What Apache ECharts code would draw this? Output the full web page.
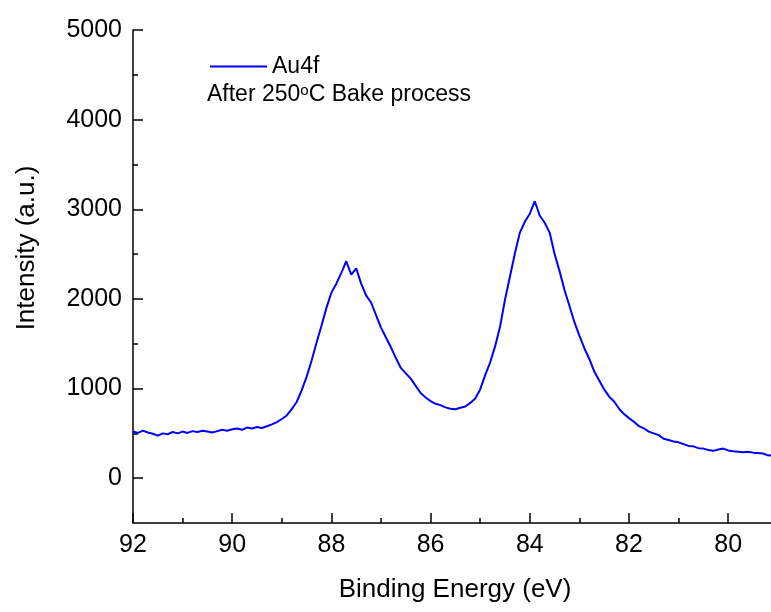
<!DOCTYPE html>
<html><head><meta charset="utf-8">
<script src="https://cdn.jsdelivr.net/npm/echarts@6/dist/echarts.min.js"></script>
<style>html,body{margin:0;padding:0;background:#fff}#c{width:771px;height:612px}</style>
</head><body><div id="c"></div>
<script>
const energy = [92.0,91.9,91.8,91.7,91.6,91.5,91.4,91.3,91.2,91.1,91.0,90.9,90.8,90.7,90.6,90.5,90.4,90.3,90.2,90.1,
90.0,89.9,89.8,89.7,89.6,89.5,89.4,89.3,89.2,89.1,89.0,88.9,88.8,88.7,88.6,88.5,88.4,88.3,88.2,88.1,
88.0,87.9,87.8,87.7,87.6,87.5,87.4,87.3,87.2,87.1,87.0,86.9,86.8,86.7,86.6,86.5,86.4,86.3,86.2,86.1,
86.0,85.9,85.8,85.7,85.6,85.5,85.4,85.3,85.2,85.1,85.0,84.9,84.8,84.7,84.6,84.5,84.4,84.3,84.2,84.1,
84.0,83.9,83.8,83.7,83.6,83.5,83.4,83.3,83.2,83.1,83.0,82.9,82.8,82.7,82.6,82.5,82.4,82.3,82.2,82.1,
82.0,81.9,81.8,81.7,81.6,81.5,81.4,81.3,81.2,81.1,81.0,80.9,80.8,80.7,80.6,80.5,80.4,80.3,80.2,80.1,
80.0,79.9,79.8,79.7,79.6,79.5,79.4,79.3,79.2,79.1];
const intensity = [520,505,530,510,495,475,500,490,515,500,520,505,525,515,530,520,510,525,540,530,
545,555,540,565,555,570,560,580,600,625,660,700,770,850,980,1130,1310,1510,1700,1900,
2070,2170,2290,2420,2270,2340,2170,2040,1960,1820,1680,1570,1460,1340,1230,1170,1110,1030,950,900,
860,830,815,790,775,770,785,800,840,890,990,1150,1290,1470,1690,1990,2250,2510,2740,2860,
2950,3090,2930,2850,2740,2500,2310,2100,1920,1740,1590,1450,1330,1190,1090,990,910,855,775,715,
670,630,580,555,520,500,480,440,425,410,400,380,360,355,335,330,315,305,320,330,
310,300,295,290,295,285,280,275,255,250];
const seriesName = 'Au4f';
const noteText = 'After 250{sup|o}C Bake process';
const yLabelValues = [0,1000,2000,3000,4000,5000];
const yMinorValues = [500,1500,2500,3500,4500];
const xTitle = 'Binding Energy (eV)';
const yTitle = 'Intensity (a.u.)';

const FONT = 'Liberation Sans, Arial, sans-serif';
const chart = echarts.init(document.getElementById('c'), null, {renderer:'canvas'});
const data = energy.map((e,i)=>[e, intensity[i]]);
chart.setOption({
  animation:false,
  backgroundColor:'#fff',
  grid:{left:133, top:30, width:694.4, height:493, containLabel:false, outerBoundsMode:'none'},
  legend:{
    left:205, top:50, itemWidth:57, itemHeight:2, icon:'rect', itemGap:8,
    textStyle:{fontFamily:FONT, fontSize:23, color:'#000'},
    data:[{name:seriesName}]
  },
  graphic:[{
    type:'text', left:207, top:83,
    style:{text:noteText, fontFamily:FONT, fontSize:23, fill:'#000',
      rich:{sup:{fontSize:15, verticalAlign:'top', lineHeight:12, padding:[0,0,14,0], fontFamily:FONT, fill:'#000'}}}
  },{
    type:'text', x:455, y:590,
    style:{text:xTitle, fontFamily:FONT, fontSize:26, fill:'#000', align:'center', verticalAlign:'middle'}
  },{
    type:'text', x:27, y:248, rotation:Math.PI/2,
    style:{text:yTitle, fontFamily:FONT, fontSize:26, fill:'#000', align:'center', verticalAlign:'middle'}
  }],
  xAxis:{
    type:'value', inverse:true, min:78, max:92, interval:2,
    axisLine:{show:true, onZero:false, lineStyle:{color:'#000', width:1.5}},
    axisTick:{show:true, inside:true, length:10, lineStyle:{color:'#000', width:1.5}},
    minorTick:{show:true, splitNumber:2, length:5, lineStyle:{color:'#000', width:1.5}},
    axisLabel:{fontFamily:FONT, fontSize:25, color:'#000', margin:10},
    splitLine:{show:false}, minorSplitLine:{show:false}
  },
  yAxis:[{
    type:'value', min:-500, max:5000, position:'left',
    axisLine:{show:true, onZero:false, lineStyle:{color:'#000', width:1.5}},
    axisTick:{show:true, inside:true, length:10, customValues:yLabelValues, lineStyle:{color:'#000', width:1.5}},
    axisLabel:{fontFamily:FONT, fontSize:25, color:'#000', margin:11, customValues:yLabelValues,
      formatter:(v)=>String(v)},
    splitLine:{show:false}
  },{
    type:'value', min:-500, max:5000, position:'left',
    axisLine:{show:false},
    axisTick:{show:true, inside:true, length:5, customValues:yMinorValues, lineStyle:{color:'#000', width:1.5}},
    axisLabel:{show:false, customValues:yMinorValues},
    splitLine:{show:false}
  }],
  series:[{
    name:seriesName, type:'line', data:data, yAxisIndex:0,
    showSymbol:false, symbol:'none',
    lineStyle:{color:'#0000ff', width:2}, itemStyle:{color:'#0000ff'},
    clip:true
  }]
});
</script></body></html>
